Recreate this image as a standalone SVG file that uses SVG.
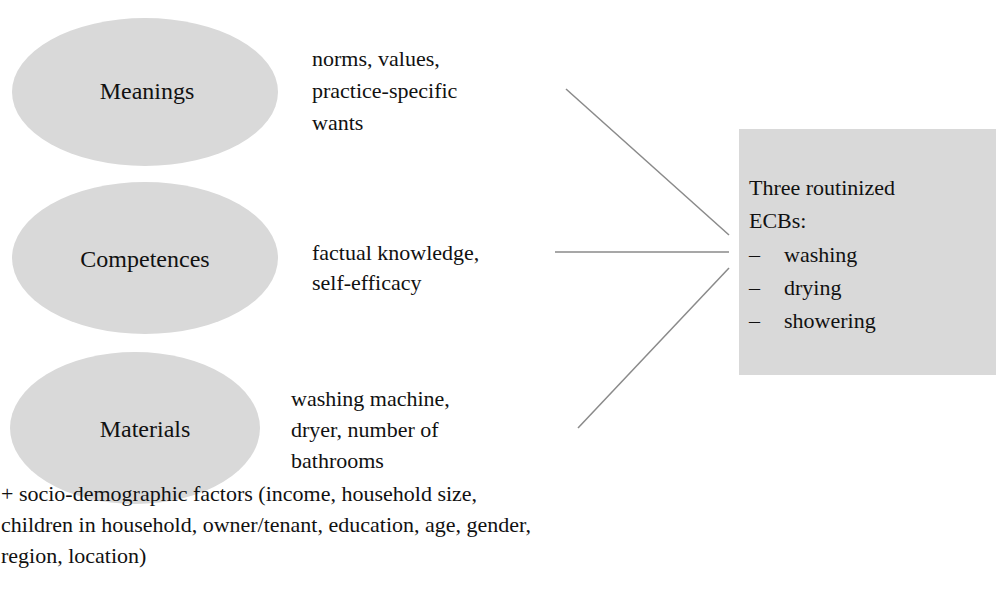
<svg xmlns="http://www.w3.org/2000/svg" width="996" height="596" viewBox="0 0 996 596">
  <style>
    text { font-family: "Liberation Serif", "Times New Roman", serif; fill: #111; }
    .node { fill: #d9d9d9; stroke: none; }
    .lbl { font-size: 24px; text-anchor: middle; }
    .txt { font-size: 22px; }
    .conn line { stroke: #8a8a8a; stroke-width: 1.5; fill: none; }
  </style>
  <rect width="996" height="596" fill="#ffffff"/>

  <g id="meanings">
    <ellipse class="node" cx="145" cy="92" rx="133" ry="74"/>
    <text class="lbl" x="147" y="99">Meanings</text>
  </g>
  <g id="meanings-detail">
    <text class="txt" x="312" y="66">norms, values,</text>
    <text class="txt" x="312" y="98">practice-specific</text>
    <text class="txt" x="312" y="130">wants</text>
  </g>

  <g id="competences">
    <ellipse class="node" cx="145" cy="258" rx="133" ry="76"/>
    <text class="lbl" x="145" y="267">Competences</text>
  </g>
  <g id="competences-detail">
    <text class="txt" x="312" y="260">factual knowledge,</text>
    <text class="txt" x="312" y="290">self-efficacy</text>
  </g>

  <g id="materials">
    <ellipse class="node" cx="135" cy="428" rx="125" ry="76"/>
    <text class="lbl" x="145" y="437">Materials</text>
  </g>
  <g id="materials-detail">
    <text class="txt" x="291" y="406">washing machine,</text>
    <text class="txt" x="291" y="437">dryer, number of</text>
    <text class="txt" x="291" y="468">bathrooms</text>
  </g>

  <g id="ecbs">
    <rect class="node" x="739" y="129" width="257" height="246"/>
    <text class="txt" x="749" y="195">Three routinized</text>
    <text class="txt" x="749" y="228">ECBs:</text>
    <text class="txt" x="749" y="262">–</text>
    <text class="txt" x="784" y="262">washing</text>
    <text class="txt" x="749" y="295">–</text>
    <text class="txt" x="784" y="295">drying</text>
    <text class="txt" x="749" y="328">–</text>
    <text class="txt" x="784" y="328">showering</text>
  </g>

  <g id="socio-demographic">
    <text class="txt" x="1" y="501">+ socio-demographic factors (income, household size,</text>
    <text class="txt" x="1" y="532">children in household, owner/tenant, education, age, gender,</text>
    <text class="txt" x="1" y="563">region, location)</text>
  </g>

  <g id="connectors" class="conn">
    <line x1="566" y1="89" x2="729" y2="235"/>
    <line x1="555" y1="252" x2="729" y2="252"/>
    <line x1="729" y1="268" x2="578" y2="428"/>
  </g>
</svg>
